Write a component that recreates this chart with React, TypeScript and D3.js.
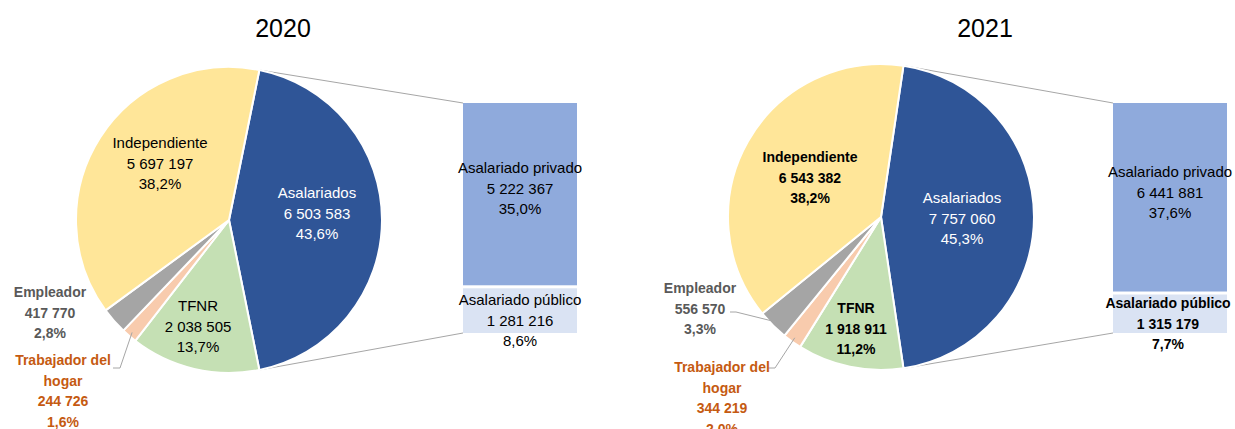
import React from "react";
import * as d3 from "d3";

const years = ["2020", "2021"];
const categories = ["Asalariados", "TFNR", "Trabajador del hogar", "Empleador", "Independiente"];
const values2020 = [6503583, 2038505, 244726, 417770, 5697197];
const values2021 = [7757060, 1918911, 344219, 556570, 6543382];
const subCategories = ["Asalariado privado", "Asalariado público"];
const sub2020 = [5222367, 1281216];
const sub2021 = [6441881, 1315179];

const sliceColors = ["#2F5597", "#C5E0B4", "#F8CBAD", "#A5A5A5", "#FFE699"];
const barColors = ["#8FAADC", "#DAE3F3"];
const font = "'Liberation Sans', Arial, sans-serif";

const fmtNum = (n: number) => d3.format(",")(n).replace(/,/g, " ");
const fmtPct = (v: number, t: number) => ((v / t) * 100).toFixed(1).replace(".", ",") + "%";

type LabelPos = { x: number; y: number; color: string; weight: number; lines?: string[] };

const layouts = [
  {
    cx: 229, cy: 220, r: 153, titleX: 283,
    bar: { x: 463, y: 103, w: 114, h: 230 },
    labels: [
      { x: 317, y: 193, color: "#FFFFFF", weight: 400 },
      { x: 198, y: 306, color: "#000000", weight: 400 },
      { x: 63, y: 360, color: "#C55A11", weight: 700, lines: ["Trabajador del", "hogar"] },
      { x: 50, y: 292, color: "#595959", weight: 700 },
      { x: 160, y: 143, color: "#000000", weight: 400 },
    ] as LabelPos[],
    barLabels: [
      { x: 520, y: 168, color: "#000000", weight: 400 },
      { x: 520, y: 300, color: "#000000", weight: 400 },
    ] as LabelPos[],
    leaders: [
      { idx: 2, pts: [[113, 368], [120, 368]] as [number, number][] },
    ],
  },
  {
    cx: 881, cy: 217, r: 153, titleX: 985,
    bar: { x: 1113, y: 103, w: 114, h: 230 },
    labels: [
      { x: 962, y: 198, color: "#FFFFFF", weight: 400 },
      { x: 856, y: 308, color: "#000000", weight: 700 },
      { x: 722, y: 367, color: "#C55A11", weight: 700, lines: ["Trabajador del", "hogar"] },
      { x: 700, y: 288, color: "#595959", weight: 700 },
      { x: 810, y: 157, color: "#000000", weight: 700 },
    ] as LabelPos[],
    barLabels: [
      { x: 1170, y: 172, color: "#000000", weight: 400 },
      { x: 1168, y: 303, color: "#000000", weight: 700 },
    ] as LabelPos[],
    leaders: [
      { idx: 3, pts: [[730, 312], [736, 312]] as [number, number][] },
      { idx: 2, pts: [[768, 368], [775, 368]] as [number, number][] },
    ],
  },
];

const dataSets = [
  { values: values2020, sub: sub2020 },
  { values: values2021, sub: sub2021 },
];

function Panel({ i }: { i: number }) {
  const L = layouts[i];
  const { values, sub } = dataSets[i];
  const total = d3.sum(values);
  const frac0 = values[0] / total;
  const start = Math.PI / 2 - frac0 * Math.PI;
  const pie = d3.pie<number>().sort(null).startAngle(start).endAngle(start + 2 * Math.PI);
  const arcs = pie(values);
  const arcGen = d3.arc<d3.PieArcDatum<number>>().innerRadius(0).outerRadius(L.r);
  const pt = (a: number, rr: number) => [L.cx + rr * Math.sin(a), L.cy - rr * Math.cos(a)];

  const gap = 3;
  const subTotal = d3.sum(sub);
  const hScale = d3.scaleLinear().domain([0, subTotal]).range([0, L.bar.h - gap]);
  let yCursor = L.bar.y;
  const bars = sub.map((v) => {
    const h = hScale(v);
    const b = { y: yCursor, h };
    yCursor += h + gap;
    return b;
  });

  const topPt = pt(arcs[0].startAngle, L.r);
  const botPt = pt(arcs[0].endAngle, L.r);
  const lh = 20.5;
  const fs = (w: number) => (w >= 700 ? 14 : 15);

  return (
    <g>
      <text x={L.titleX} y={37} textAnchor="middle" fontSize={25} fontFamily={font} fill="#000">
        {years[i]}
      </text>
      <line x1={topPt[0]} y1={topPt[1]} x2={L.bar.x} y2={L.bar.y} stroke="#A6A6A6" strokeWidth={1} />
      <line x1={botPt[0]} y1={botPt[1]} x2={L.bar.x} y2={L.bar.y + L.bar.h} stroke="#A6A6A6" strokeWidth={1} />
      <g transform={`translate(${L.cx},${L.cy})`}>
        {arcs.map((a, k) => (
          <path key={k} d={arcGen(a) || ""} fill={sliceColors[k]} stroke="#FFFFFF" strokeWidth={2} strokeLinejoin="round" />
        ))}
      </g>
      {bars.map((b, k) => (
        <rect key={k} x={L.bar.x} y={b.y} width={L.bar.w} height={b.h} fill={barColors[k]} />
      ))}
      {L.leaders.map((ld, k) => {
        const a = arcs[ld.idx];
        const mid = (a.startAngle + a.endAngle) / 2;
        const p = pt(mid, L.r * 0.97);
        const pts = [...ld.pts, p as [number, number]];
        return (
          <polyline key={k} points={pts.map((q) => q.join(",")).join(" ")} fill="none" stroke="#A6A6A6" strokeWidth={1} />
        );
      })}
      {L.labels.map((lp, k) => {
        const lines = [...(lp.lines || [categories[k]]), fmtNum(values[k]), fmtPct(values[k], total)];
        return (
          <text key={k} textAnchor="middle" fontSize={fs(lp.weight)} fontFamily={font} fill={lp.color} fontWeight={lp.weight}>
            {lines.map((s, j) => (
              <tspan key={j} x={lp.x} y={lp.y + 5 + j * lh}>{s}</tspan>
            ))}
          </text>
        );
      })}
      {L.barLabels.map((lp, k) => {
        const lines = [subCategories[k], fmtNum(sub[k]), fmtPct(sub[k], total)];
        return (
          <text key={k} textAnchor="middle" fontSize={fs(lp.weight)} fontFamily={font} fill={lp.color} fontWeight={lp.weight}>
            {lines.map((s, j) => (
              <tspan key={j} x={lp.x} y={lp.y + 5 + j * lh}>{s}</tspan>
            ))}
          </text>
        );
      })}
    </g>
  );
}

export default function App() {
  return (
    <div style={{ position: "absolute", left: 0, top: 0 }}>
      <svg width={1235} height={429} style={{ display: "block", background: "#fff" }}>
        <Panel i={0} />
        <Panel i={1} />
      </svg>
    </div>
  );
}
